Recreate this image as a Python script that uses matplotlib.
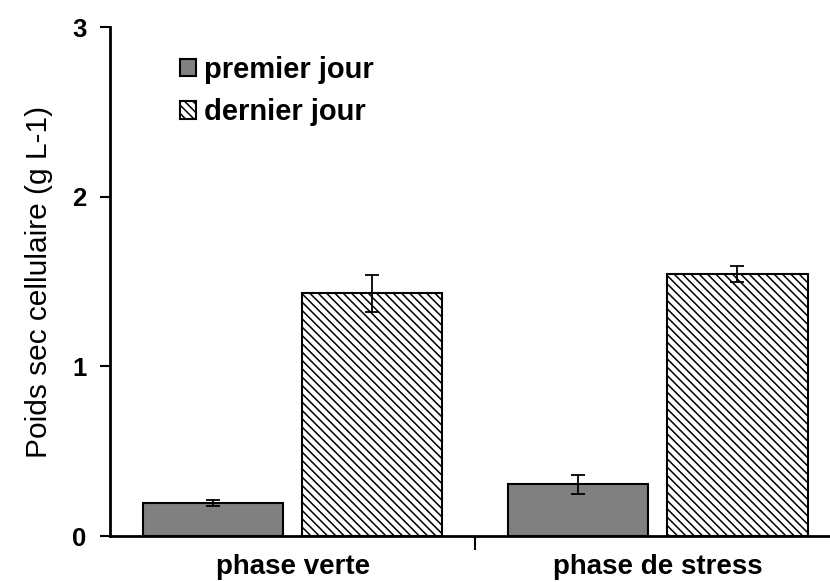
import matplotlib.pyplot as plt
import numpy as np

plt.rcParams['font.family'] = ['Liberation Sans', 'DejaVu Sans']
plt.rcParams['hatch.color'] = '#8a8a8a'
plt.rcParams['hatch.linewidth'] = 1.1

phases = ['phase verte', 'phase de stress']
series = ['premier jour', 'dernier jour']
premier = [0.195, 0.305]
premier_err = [0.02, 0.055]
dernier = [1.43, 1.545]
dernier_err = [0.11, 0.045]

fig = plt.figure(figsize=(8.3, 5.82), dpi=100)
ax = fig.add_axes([0.1325, 0.079, 0.88, 0.8746])

x = np.arange(len(phases))
w = 0.385
off = 0.218

ax.bar(x - off, premier, w, color='#808080', edgecolor='black', linewidth=1.5,
       label=series[0], zorder=2)
ax.bar(x + off, dernier, w, color='white', edgecolor='black', linewidth=1.5,
       hatch='\\\\\\\\', label=series[1], zorder=2)
ax.errorbar(x - off, premier, yerr=premier_err, fmt='none', ecolor='black',
            elinewidth=1.3, capsize=5, capthick=1.3, zorder=3)
ax.errorbar(x + off, dernier, yerr=dernier_err, fmt='none', ecolor='black',
            elinewidth=1.3, capsize=5, capthick=1.3, zorder=3)

ax.set_xlim(-0.5, 1.5)
ax.set_ylim(0, 3)
ax.set_yticks([0, 1, 2, 3])
ax.set_yticklabels(['0', '1', '2', '3'], fontsize=18.5, fontweight='bold')
ax.tick_params(axis='y', direction='out', length=7, width=1.5, pad=10)

# category labels centred under each group, separator tick between them
ax.set_xticks([0.5])
ax.set_xticklabels([''])
ax.tick_params(axis='x', direction='out', length=10, width=1.5)
for xi, name in zip(x, phases):
    ax.text(xi, -0.036, name, ha='center', va='top', fontsize=20,
            fontweight='bold', transform=ax.get_xaxis_transform())

ax.set_ylabel('Poids sec cellulaire (g L-1)', fontsize=21.5, labelpad=14)

for s in ['top', 'right']:
    ax.spines[s].set_visible(False)
for s in ['left', 'bottom']:
    ax.spines[s].set_linewidth(2)

ax.legend(loc='upper left', bbox_to_anchor=(0.06, 0.995), frameon=False,
          prop={'size': 21, 'weight': 'bold'}, handlelength=0.55,
          handleheight=0.55, handletextpad=0.27, labelspacing=0.5)

fig.savefig('out.png', dpi=100)
